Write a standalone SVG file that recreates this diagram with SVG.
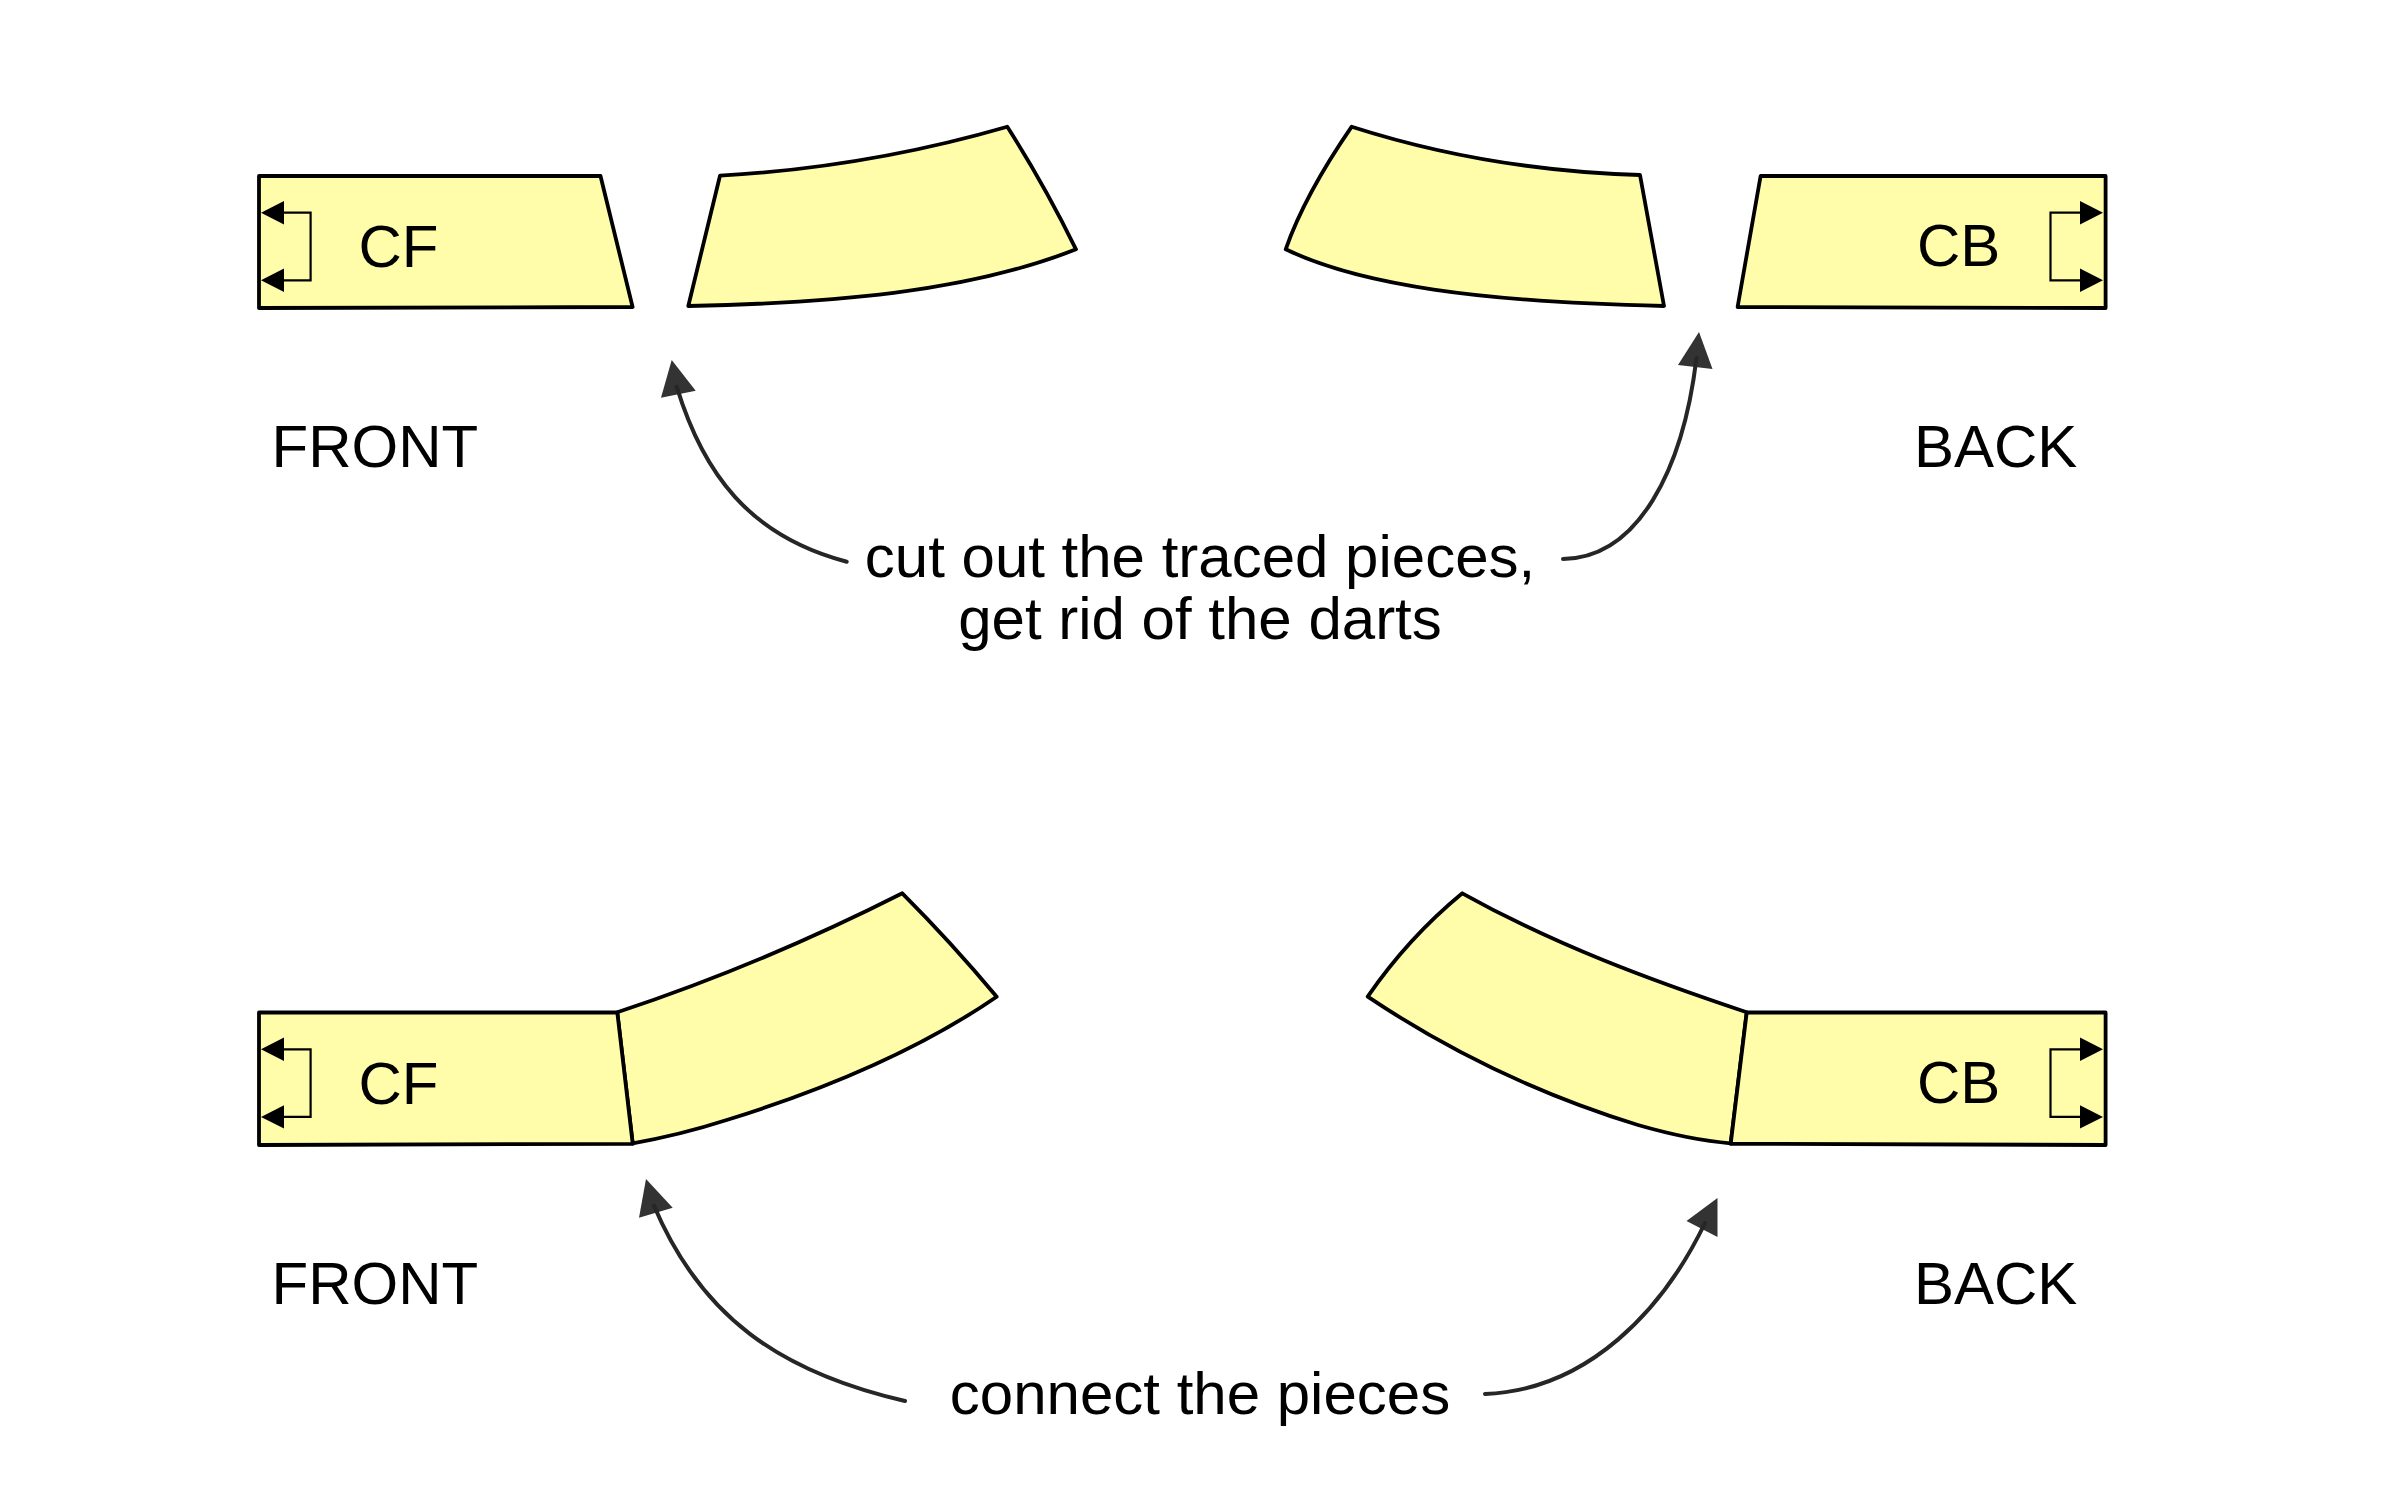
<svg xmlns="http://www.w3.org/2000/svg" width="2400" height="1489" viewBox="0 0 2400 1489">
<style>
.p{fill:#fffdaa;stroke:#000;stroke-width:3.8;stroke-linejoin:round}
.b{fill:none;stroke:#000;stroke-width:2.200}
.t{font-family:"Liberation Sans",Arial,sans-serif;font-size:60px;fill:#000}
.m{text-anchor:middle}
.c{fill:none;stroke:#262626;stroke-width:4;stroke-linecap:round}
.h{fill:#333;stroke:none}
.k{fill:#000}
</style>
<defs>
<g id="bl"><path class="b" d="M284 212.700H310.600V280.300H284"/><polygon class="k" points="261,212.700 284,201 284,224.400"/><polygon class="k" points="261,280.300 284,268.600 284,292"/></g>
<g id="br"><path class="b" d="M2080 212.700H2050.500V280.300H2080"/><polygon class="k" points="2103,212.700 2080,201 2080,224.400"/><polygon class="k" points="2103,280.300 2080,268.600 2080,292"/></g>
</defs>
<rect width="2400" height="1489" fill="#fff"/>
<g id="connectors">
<polygon class="h" points="671.700,360 661,397.700 695.700,390.700"/><path class="c" d="M846.700 561.700C749 536 703 473 676.700 386.700"/>
<polygon class="h" points="1699,332 1678,365 1712.500,369"/><path class="c" d="M1563 559C1638 558 1683 470 1696.500 358"/>
<polygon class="h" points="646,1179 639,1217.700 672.700,1207.700"/><path class="c" d="M905 1401C779 1372 700.800 1316 654 1205.700"/>
<polygon class="h" points="1717.500,1198 1686.500,1221 1717.500,1237"/><path class="c" d="M1485 1394C1588 1390 1663 1310 1705 1223"/>
</g>
<g id="front-top-cf"><path class="p" d="M259 176H600.500L632.600 307L259 308Z"/><use href="#bl"/><text class="t" x="358.500" y="267">CF</text></g>
<g id="front-top-side"><path class="p" d="M720 175.700C820 170 920 152 1007.300 126.700Q1045 186 1076 249.300C965 293 830 303 688.300 306Z"/></g>
<g id="back-top-side"><path class="p" d="M1351.700 126.700C1440 155 1540 172 1640 175L1664 306C1480 302 1360 285 1285.700 249.300Q1304.700 195 1351.700 126.700Z"/></g>
<g id="back-top-cb"><path class="p" d="M1760.600 176H2105.600V308L1737.600 307Z"/><use href="#br"/><text class="t" x="1917" y="266">CB</text></g>
<g id="front-bottom-side"><path class="p" d="M617.300 1012.300C715 980 810 940 902.300 893.300Q951 942 996.700 996.700C925 1046 830 1088 726.700 1120Q680 1135 632.700 1143.300Z"/></g>
<g id="front-bottom-cf"><path class="p" d="M259 1012.500H617.300L632.700 1143.800L259 1145Z"/><use href="#bl" y="836.600"/><text class="t" x="358.500" y="1104">CF</text></g>
<g id="back-bottom-side"><path class="p" d="M1462.300 893.300C1555 945 1650 980 1746.700 1012.300L1730.700 1143.300Q1690 1140 1638 1125C1530 1092 1440 1045 1367.700 996.700Q1408 938 1462.300 893.300Z"/></g>
<g id="back-bottom-cb"><path class="p" d="M1746.700 1012.500H2105.600V1145L1730.700 1143.800Z"/><use href="#br" y="836.600"/><text class="t" x="1917" y="1103">CB</text></g>
<g id="labels">
<text class="t" x="271.500" y="467">FRONT</text>
<text class="t" x="1914" y="467">BACK</text>
<text class="t m" x="1200" y="577">cut out the traced pieces,</text>
<text class="t m" x="1200" y="638.500">get rid of the darts</text>
<text class="t" x="271.500" y="1304">FRONT</text>
<text class="t" x="1914" y="1304">BACK</text>
<text class="t m" x="1200" y="1414">connect the pieces</text>
</g>
</svg>
